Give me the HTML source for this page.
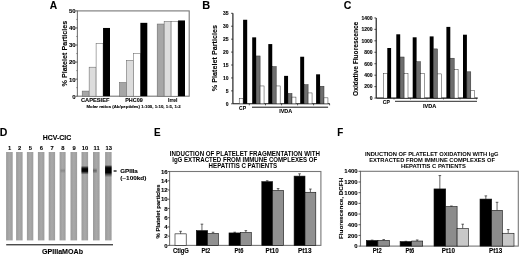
<!DOCTYPE html>
<html><head><meta charset="utf-8"><title>Figure</title>
<style>
html,body{margin:0;padding:0;background:#fff;width:520px;height:255px;overflow:hidden;}
svg{display:block;font-family:"Liberation Sans",sans-serif;filter:blur(0.4px);}
</style></head><body>
<svg width="520" height="255" viewBox="0 0 520 255">
<defs>
<linearGradient id="sg" x1="0" x2="1" y1="0" y2="0">
<stop offset="0" stop-color="#9a9a9a"/><stop offset="0.5" stop-color="#a9a9a9"/><stop offset="1" stop-color="#9c9c9c"/>
</linearGradient>
<linearGradient id="b10" x1="0" x2="0" y1="0" y2="1">
<stop offset="0" stop-color="#000" stop-opacity="0"/><stop offset="0.22" stop-color="#000" stop-opacity="0.75"/><stop offset="0.35" stop-color="#000" stop-opacity="1"/><stop offset="0.62" stop-color="#000" stop-opacity="1"/><stop offset="0.8" stop-color="#000" stop-opacity="0.5"/><stop offset="1" stop-color="#000" stop-opacity="0"/>
</linearGradient>
<linearGradient id="b13" x1="0" x2="0" y1="0" y2="1">
<stop offset="0" stop-color="#000" stop-opacity="0"/><stop offset="0.15" stop-color="#000" stop-opacity="0.8"/><stop offset="0.25" stop-color="#000" stop-opacity="1"/><stop offset="0.62" stop-color="#000" stop-opacity="1"/><stop offset="0.8" stop-color="#000" stop-opacity="0.45"/><stop offset="1" stop-color="#000" stop-opacity="0"/>
</linearGradient>
<linearGradient id="b11" x1="0" x2="0" y1="0" y2="1">
<stop offset="0" stop-color="#333" stop-opacity="0"/><stop offset="0.5" stop-color="#333" stop-opacity="0.55"/><stop offset="1" stop-color="#333" stop-opacity="0"/>
</linearGradient>
<linearGradient id="b8" x1="0" x2="0" y1="0" y2="1">
<stop offset="0" stop-color="#555" stop-opacity="0"/><stop offset="0.5" stop-color="#555" stop-opacity="0.35"/><stop offset="1" stop-color="#555" stop-opacity="0"/>
</linearGradient>
<filter id="bl" x="-50%" y="-50%" width="200%" height="200%"><feGaussianBlur stdDeviation="0.7"/></filter>
</defs>
<rect width="520" height="255" fill="#fff"/>
<text x="49.80" y="8.90" font-size="10.2" font-weight="bold" textLength="7.40" lengthAdjust="spacingAndGlyphs" fill="#000" stroke="#000" stroke-width="0.1">A</text>
<rect x="77.4" y="10.9" width="111.80" height="85.30" fill="none" stroke="#777" stroke-width="1.1"/>
<line x1="75.40" y1="96.20" x2="77.40" y2="96.20" stroke="#333" stroke-width="0.8"/>
<text x="75.60" y="98.60" font-size="6.0" font-weight="bold" text-anchor="end" fill="#000" stroke="#000" stroke-width="0.1">0</text>
<line x1="76.20" y1="87.67" x2="77.40" y2="87.67" stroke="#555" stroke-width="0.6"/>
<line x1="75.40" y1="79.14" x2="77.40" y2="79.14" stroke="#333" stroke-width="0.8"/>
<text x="75.60" y="81.54" font-size="6.0" font-weight="bold" text-anchor="end" fill="#000" stroke="#000" stroke-width="0.1">10</text>
<line x1="76.20" y1="70.61" x2="77.40" y2="70.61" stroke="#555" stroke-width="0.6"/>
<line x1="75.40" y1="62.08" x2="77.40" y2="62.08" stroke="#333" stroke-width="0.8"/>
<text x="75.60" y="64.48" font-size="6.0" font-weight="bold" text-anchor="end" fill="#000" stroke="#000" stroke-width="0.1">20</text>
<line x1="76.20" y1="53.55" x2="77.40" y2="53.55" stroke="#555" stroke-width="0.6"/>
<line x1="75.40" y1="45.02" x2="77.40" y2="45.02" stroke="#333" stroke-width="0.8"/>
<text x="75.60" y="47.42" font-size="6.0" font-weight="bold" text-anchor="end" fill="#000" stroke="#000" stroke-width="0.1">30</text>
<line x1="76.20" y1="36.49" x2="77.40" y2="36.49" stroke="#555" stroke-width="0.6"/>
<line x1="75.40" y1="27.96" x2="77.40" y2="27.96" stroke="#333" stroke-width="0.8"/>
<text x="75.60" y="30.36" font-size="6.0" font-weight="bold" text-anchor="end" fill="#000" stroke="#000" stroke-width="0.1">40</text>
<line x1="76.20" y1="19.43" x2="77.40" y2="19.43" stroke="#555" stroke-width="0.6"/>
<line x1="75.40" y1="10.90" x2="77.40" y2="10.90" stroke="#333" stroke-width="0.8"/>
<text x="75.60" y="13.30" font-size="6.0" font-weight="bold" text-anchor="end" fill="#000" stroke="#000" stroke-width="0.1">50</text>
<rect x="82.20" y="91.08" width="6.95" height="5.12" fill="#a6a6a6" stroke="#666" stroke-width="0.55"/>
<rect x="89.15" y="67.20" width="6.95" height="29.00" fill="#dcdcdc" stroke="#666" stroke-width="0.55"/>
<rect x="96.10" y="43.31" width="6.95" height="52.89" fill="#ffffff" stroke="#666" stroke-width="0.55"/>
<rect x="103.05" y="27.96" width="6.95" height="68.24" fill="#000000"/>
<rect x="119.50" y="82.55" width="6.95" height="13.65" fill="#a6a6a6" stroke="#666" stroke-width="0.55"/>
<rect x="126.45" y="60.37" width="6.95" height="35.83" fill="#dcdcdc" stroke="#666" stroke-width="0.55"/>
<rect x="133.40" y="53.55" width="6.95" height="42.65" fill="#ffffff" stroke="#666" stroke-width="0.55"/>
<rect x="140.35" y="22.84" width="6.95" height="73.36" fill="#000000"/>
<rect x="157.20" y="24.04" width="6.95" height="72.16" fill="#a6a6a6" stroke="#666" stroke-width="0.55"/>
<rect x="164.15" y="21.48" width="6.95" height="74.72" fill="#dcdcdc" stroke="#666" stroke-width="0.55"/>
<rect x="171.10" y="21.48" width="6.95" height="74.72" fill="#ffffff" stroke="#666" stroke-width="0.55"/>
<rect x="178.05" y="20.45" width="6.95" height="75.75" fill="#000000"/>
<text x="81.00" y="101.90" font-size="6.0" font-weight="bold" textLength="28.40" lengthAdjust="spacingAndGlyphs" fill="#000" stroke="#000" stroke-width="0.1">CAPESIEF</text>
<text x="125.20" y="101.90" font-size="6.0" font-weight="bold" textLength="17.50" lengthAdjust="spacingAndGlyphs" fill="#000" stroke="#000" stroke-width="0.1">PHC09</text>
<text x="168.00" y="101.90" font-size="6.0" font-weight="bold" textLength="9.50" lengthAdjust="spacingAndGlyphs" fill="#000" stroke="#000" stroke-width="0.1">Irrel</text>
<text x="86.50" y="107.70" font-size="4.4" font-weight="bold" textLength="94.20" lengthAdjust="spacingAndGlyphs" fill="#000" stroke="#000" stroke-width="0.1">Molar ratios (Ab/peptides) 1:100, 1:10, 1:5,  1:2</text>
<text x="66.60" y="86.40" font-size="7.2" font-weight="bold" textLength="65.70" lengthAdjust="spacingAndGlyphs" transform="rotate(-90 66.60 86.40)" fill="#000" stroke="#000" stroke-width="0.1">% Platelet Particles</text>
<text x="202.30" y="8.90" font-size="10.2" font-weight="bold" textLength="7.90" lengthAdjust="spacingAndGlyphs" fill="#000" stroke="#000" stroke-width="0.1">B</text>
<line x1="232.90" y1="13.30" x2="232.90" y2="103.80" stroke="#111" stroke-width="1.1"/>
<line x1="232.90" y1="103.80" x2="329.80" y2="103.80" stroke="#111" stroke-width="1.1"/>
<line x1="231.10" y1="103.80" x2="232.90" y2="103.80" stroke="#222" stroke-width="0.8"/>
<text x="228.60" y="105.60" font-size="5.0" font-weight="bold" text-anchor="end" fill="#000" stroke="#000" stroke-width="0.1">0</text>
<line x1="231.10" y1="90.87" x2="232.90" y2="90.87" stroke="#222" stroke-width="0.8"/>
<text x="228.60" y="92.67" font-size="5.0" font-weight="bold" text-anchor="end" fill="#000" stroke="#000" stroke-width="0.1">5</text>
<line x1="231.10" y1="77.94" x2="232.90" y2="77.94" stroke="#222" stroke-width="0.8"/>
<text x="228.60" y="79.74" font-size="5.0" font-weight="bold" text-anchor="end" fill="#000" stroke="#000" stroke-width="0.1">10</text>
<line x1="231.10" y1="65.01" x2="232.90" y2="65.01" stroke="#222" stroke-width="0.8"/>
<text x="228.60" y="66.81" font-size="5.0" font-weight="bold" text-anchor="end" fill="#000" stroke="#000" stroke-width="0.1">15</text>
<line x1="231.10" y1="52.09" x2="232.90" y2="52.09" stroke="#222" stroke-width="0.8"/>
<text x="228.60" y="53.89" font-size="5.0" font-weight="bold" text-anchor="end" fill="#000" stroke="#000" stroke-width="0.1">20</text>
<line x1="231.10" y1="39.16" x2="232.90" y2="39.16" stroke="#222" stroke-width="0.8"/>
<text x="228.60" y="40.96" font-size="5.0" font-weight="bold" text-anchor="end" fill="#000" stroke="#000" stroke-width="0.1">25</text>
<line x1="231.10" y1="26.23" x2="232.90" y2="26.23" stroke="#222" stroke-width="0.8"/>
<text x="228.60" y="28.03" font-size="5.0" font-weight="bold" text-anchor="end" fill="#000" stroke="#000" stroke-width="0.1">30</text>
<line x1="231.10" y1="13.30" x2="232.90" y2="13.30" stroke="#222" stroke-width="0.8"/>
<text x="228.60" y="15.10" font-size="5.0" font-weight="bold" text-anchor="end" fill="#000" stroke="#000" stroke-width="0.1">35</text>
<line x1="249.30" y1="103.80" x2="249.30" y2="105.30" stroke="#222" stroke-width="0.8"/>
<line x1="265.50" y1="103.80" x2="265.50" y2="105.30" stroke="#222" stroke-width="0.8"/>
<line x1="281.60" y1="103.80" x2="281.60" y2="105.30" stroke="#222" stroke-width="0.8"/>
<line x1="297.60" y1="103.80" x2="297.60" y2="105.30" stroke="#222" stroke-width="0.8"/>
<line x1="313.60" y1="103.80" x2="313.60" y2="105.30" stroke="#222" stroke-width="0.8"/>
<line x1="329.60" y1="103.80" x2="329.60" y2="105.30" stroke="#222" stroke-width="0.8"/>
<rect x="239.20" y="98.37" width="3.90" height="5.43" fill="#ffffff" stroke="#222" stroke-width="0.45"/>
<rect x="243.10" y="19.76" width="4.10" height="84.04" fill="#000000"/>
<rect x="252.20" y="37.35" width="3.95" height="66.45" fill="#000000"/>
<rect x="256.15" y="55.96" width="3.95" height="47.84" fill="#6e6e6e" stroke="#222" stroke-width="0.45"/>
<rect x="260.10" y="85.96" width="3.95" height="17.84" fill="#ffffff" stroke="#222" stroke-width="0.45"/>
<rect x="268.30" y="44.07" width="3.95" height="59.73" fill="#000000"/>
<rect x="272.25" y="66.57" width="3.95" height="37.23" fill="#6e6e6e" stroke="#222" stroke-width="0.45"/>
<rect x="276.20" y="85.96" width="3.95" height="17.84" fill="#ffffff" stroke="#222" stroke-width="0.45"/>
<rect x="284.10" y="75.87" width="3.95" height="27.93" fill="#000000"/>
<rect x="288.05" y="93.46" width="3.95" height="10.34" fill="#6e6e6e" stroke="#222" stroke-width="0.45"/>
<rect x="292.00" y="97.08" width="3.95" height="6.72" fill="#ffffff" stroke="#222" stroke-width="0.45"/>
<rect x="300.20" y="56.74" width="3.95" height="47.06" fill="#000000"/>
<rect x="304.15" y="84.67" width="3.95" height="19.13" fill="#6e6e6e" stroke="#222" stroke-width="0.45"/>
<rect x="308.10" y="92.94" width="3.95" height="10.86" fill="#ffffff" stroke="#222" stroke-width="0.45"/>
<rect x="316.10" y="74.32" width="3.95" height="29.48" fill="#000000"/>
<rect x="320.05" y="86.22" width="3.95" height="17.58" fill="#6e6e6e" stroke="#222" stroke-width="0.45"/>
<rect x="324.00" y="97.85" width="3.95" height="5.95" fill="#ffffff" stroke="#222" stroke-width="0.45"/>
<text x="239.00" y="109.70" font-size="5.6" font-weight="bold" textLength="7.00" lengthAdjust="spacingAndGlyphs" fill="#000" stroke="#000" stroke-width="0.1">CP</text>
<line x1="252.00" y1="107.20" x2="328.10" y2="107.20" stroke="#111" stroke-width="1.0"/>
<text x="279.20" y="112.90" font-size="5.4" font-weight="bold" textLength="13.00" lengthAdjust="spacingAndGlyphs" fill="#000" stroke="#000" stroke-width="0.1">IVDA</text>
<text x="217.30" y="91.20" font-size="7.2" font-weight="bold" textLength="66.20" lengthAdjust="spacingAndGlyphs" transform="rotate(-90 217.30 91.20)" fill="#000" stroke="#000" stroke-width="0.1">% Platelet Particles</text>
<text x="343.80" y="8.90" font-size="10.2" font-weight="bold" textLength="7.60" lengthAdjust="spacingAndGlyphs" fill="#000" stroke="#000" stroke-width="0.1">C</text>
<line x1="376.20" y1="17.90" x2="376.20" y2="98.10" stroke="#111" stroke-width="1.1"/>
<line x1="376.20" y1="98.10" x2="477.70" y2="98.10" stroke="#111" stroke-width="1.1"/>
<line x1="374.40" y1="98.10" x2="376.20" y2="98.10" stroke="#222" stroke-width="0.8"/>
<text x="372.50" y="99.90" font-size="5.0" font-weight="bold" text-anchor="end" fill="#000" stroke="#000" stroke-width="0.1">0</text>
<line x1="374.40" y1="86.64" x2="376.20" y2="86.64" stroke="#222" stroke-width="0.8"/>
<text x="372.50" y="88.44" font-size="5.0" font-weight="bold" text-anchor="end" fill="#000" stroke="#000" stroke-width="0.1">200</text>
<line x1="374.40" y1="75.19" x2="376.20" y2="75.19" stroke="#222" stroke-width="0.8"/>
<text x="372.50" y="76.99" font-size="5.0" font-weight="bold" text-anchor="end" fill="#000" stroke="#000" stroke-width="0.1">400</text>
<line x1="374.40" y1="63.73" x2="376.20" y2="63.73" stroke="#222" stroke-width="0.8"/>
<text x="372.50" y="65.53" font-size="5.0" font-weight="bold" text-anchor="end" fill="#000" stroke="#000" stroke-width="0.1">600</text>
<line x1="374.40" y1="52.27" x2="376.20" y2="52.27" stroke="#222" stroke-width="0.8"/>
<text x="372.50" y="54.07" font-size="5.0" font-weight="bold" text-anchor="end" fill="#000" stroke="#000" stroke-width="0.1">800</text>
<line x1="374.40" y1="40.81" x2="376.20" y2="40.81" stroke="#222" stroke-width="0.8"/>
<text x="372.50" y="42.61" font-size="5.0" font-weight="bold" text-anchor="end" fill="#000" stroke="#000" stroke-width="0.1">1000</text>
<line x1="374.40" y1="29.36" x2="376.20" y2="29.36" stroke="#222" stroke-width="0.8"/>
<text x="372.50" y="31.16" font-size="5.0" font-weight="bold" text-anchor="end" fill="#000" stroke="#000" stroke-width="0.1">1200</text>
<line x1="374.40" y1="17.90" x2="376.20" y2="17.90" stroke="#222" stroke-width="0.8"/>
<text x="372.50" y="19.70" font-size="5.0" font-weight="bold" text-anchor="end" fill="#000" stroke="#000" stroke-width="0.1">1400</text>
<line x1="394.00" y1="98.10" x2="394.00" y2="99.40" stroke="#222" stroke-width="0.7"/>
<line x1="410.50" y1="98.10" x2="410.50" y2="99.40" stroke="#222" stroke-width="0.7"/>
<line x1="427.00" y1="98.10" x2="427.00" y2="99.40" stroke="#222" stroke-width="0.7"/>
<line x1="443.50" y1="98.10" x2="443.50" y2="99.40" stroke="#222" stroke-width="0.7"/>
<line x1="460.00" y1="98.10" x2="460.00" y2="99.40" stroke="#222" stroke-width="0.7"/>
<line x1="476.50" y1="98.10" x2="476.50" y2="99.40" stroke="#222" stroke-width="0.7"/>
<rect x="383.50" y="73.50" width="3.80" height="24.60" fill="#ffffff" stroke="#222" stroke-width="0.45"/>
<rect x="387.30" y="48.00" width="3.80" height="50.10" fill="#000000"/>
<rect x="396.30" y="34.30" width="3.90" height="63.80" fill="#000000"/>
<rect x="400.20" y="57.00" width="3.90" height="41.10" fill="#6e6e6e" stroke="#222" stroke-width="0.45"/>
<rect x="404.10" y="73.50" width="3.90" height="24.60" fill="#ffffff" stroke="#222" stroke-width="0.45"/>
<rect x="412.70" y="37.30" width="3.90" height="60.80" fill="#000000"/>
<rect x="416.60" y="61.70" width="3.90" height="36.40" fill="#6e6e6e" stroke="#222" stroke-width="0.45"/>
<rect x="420.50" y="73.50" width="3.90" height="24.60" fill="#ffffff" stroke="#222" stroke-width="0.45"/>
<rect x="429.70" y="36.40" width="3.90" height="61.70" fill="#000000"/>
<rect x="433.60" y="48.90" width="3.90" height="49.20" fill="#6e6e6e" stroke="#222" stroke-width="0.45"/>
<rect x="437.50" y="73.90" width="3.90" height="24.20" fill="#ffffff" stroke="#222" stroke-width="0.45"/>
<rect x="446.40" y="26.90" width="3.90" height="71.20" fill="#000000"/>
<rect x="450.30" y="58.20" width="3.90" height="39.90" fill="#6e6e6e" stroke="#222" stroke-width="0.45"/>
<rect x="454.20" y="69.50" width="3.90" height="28.60" fill="#ffffff" stroke="#222" stroke-width="0.45"/>
<rect x="463.00" y="34.70" width="3.90" height="63.40" fill="#000000"/>
<rect x="466.90" y="71.80" width="3.90" height="26.30" fill="#6e6e6e" stroke="#222" stroke-width="0.45"/>
<rect x="470.80" y="90.30" width="3.90" height="7.80" fill="#ffffff" stroke="#222" stroke-width="0.45"/>
<text x="382.80" y="103.90" font-size="5.4" font-weight="bold" textLength="7.00" lengthAdjust="spacingAndGlyphs" fill="#000" stroke="#000" stroke-width="0.1">CP</text>
<line x1="395.00" y1="101.30" x2="477.00" y2="101.30" stroke="#111" stroke-width="0.9"/>
<text x="423.00" y="107.60" font-size="5.2" font-weight="bold" textLength="13.30" lengthAdjust="spacingAndGlyphs" fill="#000" stroke="#000" stroke-width="0.1">IVDA</text>
<text x="358.30" y="95.90" font-size="6.6" font-weight="bold" textLength="74.20" lengthAdjust="spacingAndGlyphs" transform="rotate(-90 358.30 95.90)" fill="#000" stroke="#000" stroke-width="0.1">Oxidative Fluorescence</text>
<text x="-0.30" y="135.80" font-size="11" font-weight="bold" textLength="7.60" lengthAdjust="spacingAndGlyphs" fill="#000" stroke="#000" stroke-width="0.1">D</text>
<text x="42.70" y="140.10" font-size="7.0" font-weight="bold" textLength="28.50" lengthAdjust="spacingAndGlyphs" fill="#000" stroke="#000" stroke-width="0.1">HCV-CIC</text>
<rect x="6.10" y="152.0" width="6.60" height="88.4" fill="url(#sg)"/>
<text x="9.70" y="149.50" font-size="5.8" font-weight="bold" text-anchor="middle" fill="#000" stroke="#000" stroke-width="0.1">1</text>
<rect x="16.10" y="152.0" width="6.50" height="88.4" fill="url(#sg)"/>
<text x="19.65" y="149.50" font-size="5.8" font-weight="bold" text-anchor="middle" fill="#000" stroke="#000" stroke-width="0.1">2</text>
<rect x="26.90" y="152.0" width="6.40" height="88.4" fill="url(#sg)"/>
<text x="30.40" y="149.50" font-size="5.8" font-weight="bold" text-anchor="middle" fill="#000" stroke="#000" stroke-width="0.1">5</text>
<rect x="37.90" y="152.0" width="6.50" height="88.4" fill="url(#sg)"/>
<text x="41.45" y="149.50" font-size="5.8" font-weight="bold" text-anchor="middle" fill="#000" stroke="#000" stroke-width="0.1">6</text>
<rect x="48.70" y="152.0" width="6.40" height="88.4" fill="url(#sg)"/>
<text x="52.20" y="149.50" font-size="5.8" font-weight="bold" text-anchor="middle" fill="#000" stroke="#000" stroke-width="0.1">7</text>
<rect x="59.60" y="152.0" width="6.00" height="88.4" fill="url(#sg)"/>
<text x="62.90" y="149.50" font-size="5.8" font-weight="bold" text-anchor="middle" fill="#000" stroke="#000" stroke-width="0.1">8</text>
<rect x="70.50" y="152.0" width="6.60" height="88.4" fill="url(#sg)"/>
<text x="74.10" y="149.50" font-size="5.8" font-weight="bold" text-anchor="middle" fill="#000" stroke="#000" stroke-width="0.1">9</text>
<rect x="81.50" y="152.0" width="6.60" height="88.4" fill="url(#sg)"/>
<text x="85.10" y="149.50" font-size="5.8" font-weight="bold" text-anchor="middle" fill="#000" stroke="#000" stroke-width="0.1">10</text>
<rect x="93.00" y="152.0" width="6.60" height="88.4" fill="url(#sg)"/>
<text x="96.60" y="149.50" font-size="5.8" font-weight="bold" text-anchor="middle" fill="#000" stroke="#000" stroke-width="0.1">11</text>
<rect x="105.10" y="152.0" width="6.50" height="88.4" fill="url(#sg)"/>
<text x="108.65" y="149.50" font-size="5.8" font-weight="bold" text-anchor="middle" fill="#000" stroke="#000" stroke-width="0.1">13</text>
<rect x="81.50" y="165.80" width="6.60" height="8.80" fill="url(#b10)"/>
<rect x="105.10" y="165.00" width="6.50" height="12.20" fill="url(#b13)"/>
<rect x="93.00" y="168.00" width="3.80" height="5.50" fill="url(#b11)"/>
<rect x="60.50" y="168.20" width="4.50" height="5.00" fill="url(#b8)"/>
<line x1="6.20" y1="244.80" x2="113.00" y2="244.80" stroke="#000" stroke-width="1.0"/>
<text x="42.00" y="254.30" font-size="7.1" font-weight="bold" textLength="41.00" lengthAdjust="spacingAndGlyphs" fill="#000" stroke="#000" stroke-width="0.1">GPIIIaMOAb</text>
<line x1="113.60" y1="171.00" x2="116.60" y2="171.00" stroke="#000" stroke-width="1.2"/>
<text x="120.20" y="172.80" font-size="6.2" font-weight="bold" textLength="17.60" lengthAdjust="spacingAndGlyphs" fill="#000" stroke="#000" stroke-width="0.1">GPIIIa</text>
<text x="120.20" y="180.30" font-size="6.2" font-weight="bold" textLength="26.20" lengthAdjust="spacingAndGlyphs" fill="#000" stroke="#000" stroke-width="0.1">(~100kd)</text>
<text x="154.00" y="136.10" font-size="11" font-weight="bold" textLength="6.60" lengthAdjust="spacingAndGlyphs" fill="#000" stroke="#000" stroke-width="0.1">E</text>
<text x="169.80" y="155.70" font-size="6.3" font-weight="bold" textLength="150.20" lengthAdjust="spacingAndGlyphs" fill="#000">INDUCTION OF PLATELET FRAGMENTATION WITH</text>
<text x="172.20" y="161.60" font-size="6.3" font-weight="bold" textLength="145.10" lengthAdjust="spacingAndGlyphs" fill="#000">IgG EXTRACTED FROM IMMUNE COMPLEXES OF</text>
<text x="208.60" y="167.70" font-size="6.3" font-weight="bold" textLength="68.50" lengthAdjust="spacingAndGlyphs" fill="#000">HEPATITIS C PATIENTS</text>
<rect x="169.6" y="171.5" width="151.30" height="73.90" fill="none" stroke="#777" stroke-width="1.1"/>
<line x1="167.60" y1="245.40" x2="169.60" y2="245.40" stroke="#333" stroke-width="0.8"/>
<text x="167.60" y="247.50" font-size="6.0" font-weight="bold" text-anchor="end" fill="#000" stroke="#000" stroke-width="0.1">0</text>
<line x1="167.60" y1="236.16" x2="169.60" y2="236.16" stroke="#333" stroke-width="0.8"/>
<text x="167.60" y="238.26" font-size="6.0" font-weight="bold" text-anchor="end" fill="#000" stroke="#000" stroke-width="0.1">2</text>
<line x1="167.60" y1="226.93" x2="169.60" y2="226.93" stroke="#333" stroke-width="0.8"/>
<text x="167.60" y="229.03" font-size="6.0" font-weight="bold" text-anchor="end" fill="#000" stroke="#000" stroke-width="0.1">4</text>
<line x1="167.60" y1="217.69" x2="169.60" y2="217.69" stroke="#333" stroke-width="0.8"/>
<text x="167.60" y="219.79" font-size="6.0" font-weight="bold" text-anchor="end" fill="#000" stroke="#000" stroke-width="0.1">6</text>
<line x1="167.60" y1="208.45" x2="169.60" y2="208.45" stroke="#333" stroke-width="0.8"/>
<text x="167.60" y="210.55" font-size="6.0" font-weight="bold" text-anchor="end" fill="#000" stroke="#000" stroke-width="0.1">8</text>
<line x1="167.60" y1="199.21" x2="169.60" y2="199.21" stroke="#333" stroke-width="0.8"/>
<text x="167.60" y="201.31" font-size="6.0" font-weight="bold" text-anchor="end" fill="#000" stroke="#000" stroke-width="0.1">10</text>
<line x1="167.60" y1="189.97" x2="169.60" y2="189.97" stroke="#333" stroke-width="0.8"/>
<text x="167.60" y="192.07" font-size="6.0" font-weight="bold" text-anchor="end" fill="#000" stroke="#000" stroke-width="0.1">12</text>
<line x1="167.60" y1="180.74" x2="169.60" y2="180.74" stroke="#333" stroke-width="0.8"/>
<text x="167.60" y="182.84" font-size="6.0" font-weight="bold" text-anchor="end" fill="#000" stroke="#000" stroke-width="0.1">14</text>
<line x1="167.60" y1="171.50" x2="169.60" y2="171.50" stroke="#333" stroke-width="0.8"/>
<text x="167.60" y="173.60" font-size="6.0" font-weight="bold" text-anchor="end" fill="#000" stroke="#000" stroke-width="0.1">16</text>
<line x1="180.60" y1="231.31" x2="180.60" y2="233.85" stroke="#222" stroke-width="0.7"/>
<line x1="179.30" y1="231.31" x2="181.90" y2="231.31" stroke="#222" stroke-width="0.7"/>
<rect x="175.00" y="233.85" width="11.20" height="11.55" fill="#ffffff" stroke="#111" stroke-width="0.6"/>
<line x1="201.95" y1="224.15" x2="201.95" y2="230.62" stroke="#222" stroke-width="0.7"/>
<line x1="200.65" y1="224.15" x2="203.25" y2="224.15" stroke="#222" stroke-width="0.7"/>
<rect x="196.30" y="230.62" width="11.30" height="14.78" fill="#000000" stroke="#111" stroke-width="0.6"/>
<line x1="213.05" y1="232.24" x2="213.05" y2="233.39" stroke="#222" stroke-width="0.7"/>
<line x1="211.75" y1="232.24" x2="214.35" y2="232.24" stroke="#222" stroke-width="0.7"/>
<rect x="207.60" y="233.39" width="10.90" height="12.01" fill="#909090" stroke="#111" stroke-width="0.6"/>
<line x1="234.70" y1="232.24" x2="234.70" y2="232.93" stroke="#222" stroke-width="0.7"/>
<line x1="233.40" y1="232.24" x2="236.00" y2="232.24" stroke="#222" stroke-width="0.7"/>
<rect x="229.00" y="232.93" width="11.40" height="12.47" fill="#000000" stroke="#111" stroke-width="0.6"/>
<line x1="245.85" y1="230.62" x2="245.85" y2="232.47" stroke="#222" stroke-width="0.7"/>
<line x1="244.55" y1="230.62" x2="247.15" y2="230.62" stroke="#222" stroke-width="0.7"/>
<rect x="240.40" y="232.47" width="10.90" height="12.93" fill="#909090" stroke="#111" stroke-width="0.6"/>
<line x1="267.20" y1="180.74" x2="267.20" y2="181.66" stroke="#222" stroke-width="0.7"/>
<line x1="265.90" y1="180.74" x2="268.50" y2="180.74" stroke="#222" stroke-width="0.7"/>
<rect x="261.80" y="181.66" width="10.80" height="63.74" fill="#000000" stroke="#111" stroke-width="0.6"/>
<line x1="278.10" y1="188.59" x2="278.10" y2="190.44" stroke="#222" stroke-width="0.7"/>
<line x1="276.80" y1="188.59" x2="279.40" y2="188.59" stroke="#222" stroke-width="0.7"/>
<rect x="272.60" y="190.44" width="11.00" height="54.96" fill="#909090" stroke="#111" stroke-width="0.6"/>
<line x1="299.55" y1="173.81" x2="299.55" y2="176.12" stroke="#222" stroke-width="0.7"/>
<line x1="298.25" y1="173.81" x2="300.85" y2="173.81" stroke="#222" stroke-width="0.7"/>
<rect x="294.10" y="176.12" width="10.90" height="69.28" fill="#000000" stroke="#111" stroke-width="0.6"/>
<line x1="310.40" y1="189.05" x2="310.40" y2="192.28" stroke="#222" stroke-width="0.7"/>
<line x1="309.10" y1="189.05" x2="311.70" y2="189.05" stroke="#222" stroke-width="0.7"/>
<rect x="305.00" y="192.28" width="10.80" height="53.12" fill="#909090" stroke="#111" stroke-width="0.6"/>
<text x="173.00" y="252.50" font-size="6.3" font-weight="bold" textLength="15.90" lengthAdjust="spacingAndGlyphs" fill="#000" stroke="#000" stroke-width="0.1">CtlgG</text>
<text x="201.40" y="252.50" font-size="6.3" font-weight="bold" textLength="8.90" lengthAdjust="spacingAndGlyphs" fill="#000" stroke="#000" stroke-width="0.1">Pt2</text>
<text x="234.50" y="252.50" font-size="6.3" font-weight="bold" textLength="8.90" lengthAdjust="spacingAndGlyphs" fill="#000" stroke="#000" stroke-width="0.1">Pt6</text>
<text x="265.60" y="252.50" font-size="6.3" font-weight="bold" textLength="13.10" lengthAdjust="spacingAndGlyphs" fill="#000" stroke="#000" stroke-width="0.1">Pt10</text>
<text x="297.90" y="252.50" font-size="6.3" font-weight="bold" textLength="13.60" lengthAdjust="spacingAndGlyphs" fill="#000" stroke="#000" stroke-width="0.1">Pt13</text>
<text x="159.80" y="238.50" font-size="6.0" font-weight="bold" textLength="54.10" lengthAdjust="spacingAndGlyphs" transform="rotate(-90 159.80 238.50)" fill="#000" stroke="#000" stroke-width="0.1">% Platelet particles</text>
<text x="337.30" y="136.20" font-size="10.6" font-weight="bold" textLength="6.00" lengthAdjust="spacingAndGlyphs" fill="#000" stroke="#000" stroke-width="0.1">F</text>
<text x="364.90" y="156.40" font-size="6.2" font-weight="bold" textLength="133.60" lengthAdjust="spacingAndGlyphs" fill="#000">INDUCTION OF PLATELET OXIDATION WITH IgG</text>
<text x="369.20" y="162.30" font-size="6.2" font-weight="bold" textLength="125.80" lengthAdjust="spacingAndGlyphs" fill="#000">EXTRACTED FROM IMMUNE COMPLEXES OF</text>
<text x="401.00" y="168.10" font-size="6.2" font-weight="bold" textLength="64.80" lengthAdjust="spacingAndGlyphs" fill="#000">HEPATITIS C PATIENTS</text>
<rect x="360.5" y="171.3" width="157.80" height="74.80" fill="none" stroke="#777" stroke-width="1.1"/>
<line x1="358.50" y1="246.10" x2="360.50" y2="246.10" stroke="#333" stroke-width="0.8"/>
<text x="357.70" y="248.20" font-size="6.0" font-weight="bold" text-anchor="end" fill="#000" stroke="#000" stroke-width="0.1">0</text>
<line x1="358.50" y1="235.41" x2="360.50" y2="235.41" stroke="#333" stroke-width="0.8"/>
<text x="357.70" y="237.51" font-size="6.0" font-weight="bold" text-anchor="end" fill="#000" stroke="#000" stroke-width="0.1">200</text>
<line x1="358.50" y1="224.73" x2="360.50" y2="224.73" stroke="#333" stroke-width="0.8"/>
<text x="357.70" y="226.83" font-size="6.0" font-weight="bold" text-anchor="end" fill="#000" stroke="#000" stroke-width="0.1">400</text>
<line x1="358.50" y1="214.04" x2="360.50" y2="214.04" stroke="#333" stroke-width="0.8"/>
<text x="357.70" y="216.14" font-size="6.0" font-weight="bold" text-anchor="end" fill="#000" stroke="#000" stroke-width="0.1">600</text>
<line x1="358.50" y1="203.36" x2="360.50" y2="203.36" stroke="#333" stroke-width="0.8"/>
<text x="357.70" y="205.46" font-size="6.0" font-weight="bold" text-anchor="end" fill="#000" stroke="#000" stroke-width="0.1">800</text>
<line x1="358.50" y1="192.67" x2="360.50" y2="192.67" stroke="#333" stroke-width="0.8"/>
<text x="357.70" y="194.77" font-size="6.0" font-weight="bold" text-anchor="end" fill="#000" stroke="#000" stroke-width="0.1">1000</text>
<line x1="358.50" y1="181.99" x2="360.50" y2="181.99" stroke="#333" stroke-width="0.8"/>
<text x="357.70" y="184.09" font-size="6.0" font-weight="bold" text-anchor="end" fill="#000" stroke="#000" stroke-width="0.1">1200</text>
<line x1="358.50" y1="171.30" x2="360.50" y2="171.30" stroke="#333" stroke-width="0.8"/>
<text x="357.70" y="173.40" font-size="6.0" font-weight="bold" text-anchor="end" fill="#000" stroke="#000" stroke-width="0.1">1400</text>
<line x1="372.10" y1="240.12" x2="372.10" y2="240.49" stroke="#222" stroke-width="0.7"/>
<line x1="370.80" y1="240.12" x2="373.40" y2="240.12" stroke="#222" stroke-width="0.7"/>
<rect x="366.30" y="240.49" width="11.60" height="5.61" fill="#000000" stroke="#111" stroke-width="0.6"/>
<line x1="383.70" y1="239.58" x2="383.70" y2="240.33" stroke="#222" stroke-width="0.7"/>
<line x1="382.40" y1="239.58" x2="385.00" y2="239.58" stroke="#222" stroke-width="0.7"/>
<rect x="377.90" y="240.33" width="11.60" height="5.77" fill="#8c8c8c" stroke="#111" stroke-width="0.6"/>
<line x1="405.90" y1="241.29" x2="405.90" y2="241.56" stroke="#222" stroke-width="0.7"/>
<line x1="404.60" y1="241.29" x2="407.20" y2="241.29" stroke="#222" stroke-width="0.7"/>
<rect x="400.10" y="241.56" width="11.60" height="4.54" fill="#000000" stroke="#111" stroke-width="0.6"/>
<line x1="417.20" y1="239.96" x2="417.20" y2="241.02" stroke="#222" stroke-width="0.7"/>
<line x1="415.90" y1="239.96" x2="418.50" y2="239.96" stroke="#222" stroke-width="0.7"/>
<rect x="411.70" y="241.02" width="11.00" height="5.08" fill="#8c8c8c" stroke="#111" stroke-width="0.6"/>
<line x1="439.85" y1="175.57" x2="439.85" y2="188.93" stroke="#222" stroke-width="0.7"/>
<line x1="438.55" y1="175.57" x2="441.15" y2="175.57" stroke="#222" stroke-width="0.7"/>
<rect x="434.00" y="188.93" width="11.70" height="57.17" fill="#000000" stroke="#111" stroke-width="0.6"/>
<line x1="451.40" y1="206.03" x2="451.40" y2="206.56" stroke="#222" stroke-width="0.7"/>
<line x1="450.10" y1="206.03" x2="452.70" y2="206.03" stroke="#222" stroke-width="0.7"/>
<rect x="445.70" y="206.56" width="11.40" height="39.54" fill="#8c8c8c" stroke="#111" stroke-width="0.6"/>
<line x1="462.70" y1="224.19" x2="462.70" y2="228.47" stroke="#222" stroke-width="0.7"/>
<line x1="461.40" y1="224.19" x2="464.00" y2="224.19" stroke="#222" stroke-width="0.7"/>
<rect x="457.10" y="228.47" width="11.20" height="17.63" fill="#c8c8c8" stroke="#111" stroke-width="0.6"/>
<line x1="485.85" y1="195.88" x2="485.85" y2="199.08" stroke="#222" stroke-width="0.7"/>
<line x1="484.55" y1="195.88" x2="487.15" y2="195.88" stroke="#222" stroke-width="0.7"/>
<rect x="480.00" y="199.08" width="11.70" height="47.02" fill="#000000" stroke="#111" stroke-width="0.6"/>
<line x1="497.05" y1="202.29" x2="497.05" y2="210.30" stroke="#222" stroke-width="0.7"/>
<line x1="495.75" y1="202.29" x2="498.35" y2="202.29" stroke="#222" stroke-width="0.7"/>
<rect x="491.70" y="210.30" width="10.70" height="35.80" fill="#8c8c8c" stroke="#111" stroke-width="0.6"/>
<line x1="508.20" y1="229.54" x2="508.20" y2="233.28" stroke="#222" stroke-width="0.7"/>
<line x1="506.90" y1="229.54" x2="509.50" y2="229.54" stroke="#222" stroke-width="0.7"/>
<rect x="502.40" y="233.28" width="11.60" height="12.82" fill="#c8c8c8" stroke="#111" stroke-width="0.6"/>
<text x="372.70" y="252.50" font-size="6.3" font-weight="bold" textLength="9.00" lengthAdjust="spacingAndGlyphs" fill="#000" stroke="#000" stroke-width="0.1">Pt2</text>
<text x="405.40" y="252.50" font-size="6.3" font-weight="bold" textLength="8.90" lengthAdjust="spacingAndGlyphs" fill="#000" stroke="#000" stroke-width="0.1">Pt6</text>
<text x="441.70" y="252.50" font-size="6.3" font-weight="bold" textLength="13.30" lengthAdjust="spacingAndGlyphs" fill="#000" stroke="#000" stroke-width="0.1">Pt10</text>
<text x="489.00" y="252.50" font-size="6.3" font-weight="bold" textLength="13.30" lengthAdjust="spacingAndGlyphs" fill="#000" stroke="#000" stroke-width="0.1">Pt13</text>
<text x="342.80" y="239.00" font-size="6.2" font-weight="bold" textLength="61.20" lengthAdjust="spacingAndGlyphs" transform="rotate(-90 342.80 239.00)" fill="#000" stroke="#000" stroke-width="0.1">Fluorescence, DCFH</text>
</svg>
</body></html>
